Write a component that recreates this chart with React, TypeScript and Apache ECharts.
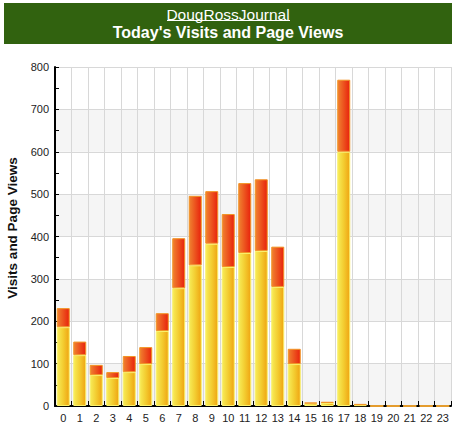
import React, { useEffect, useRef } from "react";
import * as echarts from "echarts";

const hours = ["0","1","2","3","4","5","6","7","8","9","10","11","12","13","14","15","16","17","18","19","20","21","22","23"];
const visits = [186, 120, 73, 66, 80, 99, 177, 278, 332, 383, 328, 361, 366, 281, 99, 6, 7, 600, 2, 0, 0, 0, 0, 0];
const pageViews = [231, 152, 97, 80, 118, 139, 219, 396, 496, 507, 453, 526, 535, 376, 135, 8, 10, 770, 5, 0, 0, 0, 0, 0];
const siteName = "DougRossJournal";
const chartTitle = "Today's Visits and Page Views";
const yAxisName = "Visits and Page Views";

export default function App() {
  const ref = useRef<HTMLDivElement>(null);
  useEffect(() => {
    if (!ref.current) return;
    const chart = echarts.init(ref.current, null, { renderer: "svg" });
    const extra = pageViews.map((v, i) => Math.max(0, v - visits[i]));
    const font = "'Liberation Sans', Arial, sans-serif";
    chart.setOption({
      animation: false,
      textStyle: { fontFamily: font },
      graphic: [
        { type: "rect", shape: { x: 4, y: 3, width: 448, height: 41 }, style: { fill: "#31620f" }, z: 10 },
        { type: "text", x: 228, y: 14, style: { text: siteName, fill: "#ffffff", font: "15.5px " + font, align: "center", verticalAlign: "middle" }, z: 11 },
        { type: "line", shape: { x1: 167, y1: 20.5, x2: 290, y2: 20.5 }, style: { stroke: "#ffffff", lineWidth: 1 }, z: 11 },
        { type: "text", x: 228, y: 32, style: { text: chartTitle, fill: "#ffffff", font: "bold 16px " + font, align: "center", verticalAlign: "middle" }, z: 11 },
        { type: "text", x: 12, y: 228, rotation: Math.PI / 2, style: { text: yAxisName, fill: "#111", font: "bold 13.5px " + font, align: "center", verticalAlign: "middle" }, z: 11 },
      ],
      grid: { left: 55, right: 3, top: 67, bottom: 23, containLabel: false, outerBoundsMode: "none" },
      xAxis: {
        type: "category",
        data: hours,
        boundaryGap: true,
        axisLine: { lineStyle: { color: "#000", width: 2 } },
        axisTick: { show: true, inside: true, length: 5, interval: 0, lineStyle: { color: "#000" } },
        axisLabel: { interval: 0, color: "#222", fontSize: 11, margin: 6, fontFamily: font },
        splitLine: { show: true, interval: 0, lineStyle: { color: "#d8d8d8", width: 1 } },
      },
      yAxis: {
        type: "value",
        min: 0,
        max: 800,
        interval: 100,
        axisLine: { show: true, lineStyle: { color: "#000", width: 2 } },
        axisTick: { show: true, inside: true, length: 4, lineStyle: { color: "#000" } },
        minorTick: { show: true, splitNumber: 2, length: 4, lineStyle: { color: "#000" } },
        axisLabel: { color: "#222", fontSize: 11, margin: 6, fontFamily: font },
        splitLine: { show: true, lineStyle: { color: "#d8d8d8", width: 1 } },
        splitArea: { show: true, areaStyle: { color: ["#f5f5f5", "#ffffff"] } },
      },
      series: [
        {
          name: "Visits",
          type: "bar",
          stack: "total",
          barWidth: 13,
          data: visits,
          itemStyle: {
            color: new echarts.graphic.LinearGradient(0, 0, 1, 0, [
              { offset: 0, color: "#f7ec58" },
              { offset: 0.5, color: "#f3cc30" },
              { offset: 1, color: "#efa412" },
            ]),
            borderColor: "#f9f06a",
            borderWidth: 1,
          },
        },
        {
          name: "Page Views",
          type: "bar",
          stack: "total",
          barWidth: 13,
          data: extra,
          itemStyle: {
            color: new echarts.graphic.LinearGradient(0, 0, 1, 0, [
              { offset: 0, color: "#f08230" },
              { offset: 1, color: "#e8220c" },
            ]),
            borderColor: "#f29424",
            borderWidth: 1,
          },
        },
      ],
    });
    return () => chart.dispose();
  }, []);
  return (
    <div
      ref={ref}
      style={{ position: "absolute", left: 0, top: 0, width: 454, height: 429, background: "#fff" }}
    />
  );
}
